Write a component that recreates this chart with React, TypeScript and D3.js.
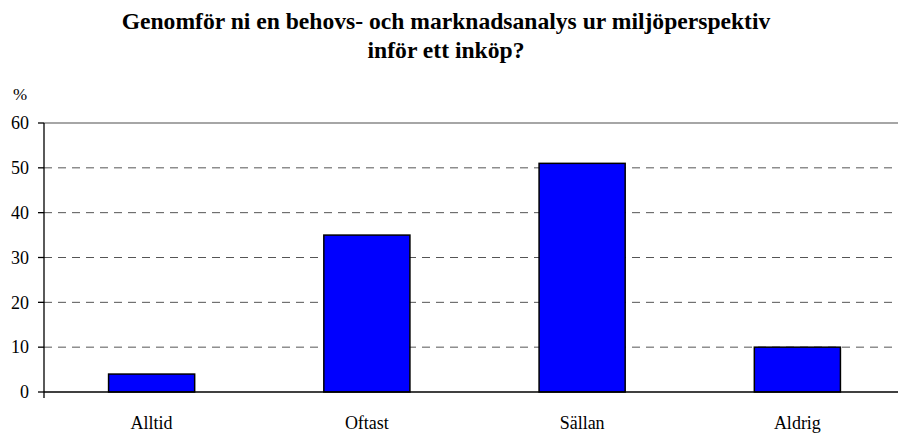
import React from "react";
import * as d3 from "d3";

const categories = ["Alltid", "Oftast", "Sällan", "Aldrig"];
const values = [4, 35, 51, 10];
const yTicks = [0, 10, 20, 30, 40, 50, 60];
const titleLines = ["Genomför ni en behovs- och marknadsanalys ur miljöperspektiv", "inför ett inköp?"];

export default function App() {
  const W = 898, H = 434;
  const left = 44, right = 905, top = 123, bottom = 392;
  const x = d3.scaleBand<string>().domain(categories).range([left, right]).paddingInner(0.6).paddingOuter(0.3);
  const y = d3.scaleLinear().domain([0, 60]).range([bottom, top]);
  const font = "Times New Roman, Times, Liberation Serif, serif";
  return (
    <svg width={W} height={H} style={{ position: "absolute", left: 0, top: 0, background: "#fff" }}>
      <g fontFamily={font}>
      {titleLines.map((t, i) => (
        <text key={i} x={446} y={29 + i * 29} textAnchor="middle" fontWeight="bold" fontSize={23.6}>{t}</text>
      ))}
      <text x={20} y={100} textAnchor="middle" fontSize={17}>%</text>
      {yTicks.map((v) => (
        <g key={v}>
          {v > 0 && v < 60 && (
            <line x1={left} x2={W} y1={y(v)} y2={y(v)} stroke="#555" strokeWidth={1} strokeDasharray="8,6" />
          )}
          <line x1={left - 6} x2={left} y1={y(v)} y2={y(v)} stroke="#000" strokeWidth={1.3} />
          <text x={29} y={y(v)} dy="0.35em" textAnchor="end" fontSize={18}>{v}</text>
        </g>
      ))}
      <line x1={left} x2={W} y1={y(60)} y2={y(60)} stroke="#888" strokeWidth={1.5} />
      {categories.map((c, i) => (
        <rect key={c} x={x(c)!} y={y(values[i])} width={x.bandwidth()} height={y(0) - y(values[i])} fill="#0000ff" stroke="#000" strokeWidth={1.5} />
      ))}
      <line x1={left} x2={W} y1={y(0)} y2={y(0)} stroke="#000" strokeWidth={1.3} />
      <line x1={left} x2={left} y1={y(60)} y2={y(0) + 6} stroke="#000" strokeWidth={1.3} />
      {categories.map((c) => (
        <text key={c} x={x(c)! + x.bandwidth() / 2} y={429} textAnchor="middle" fontSize={18}>{c}</text>
      ))}
      </g>
    </svg>
  );
}
